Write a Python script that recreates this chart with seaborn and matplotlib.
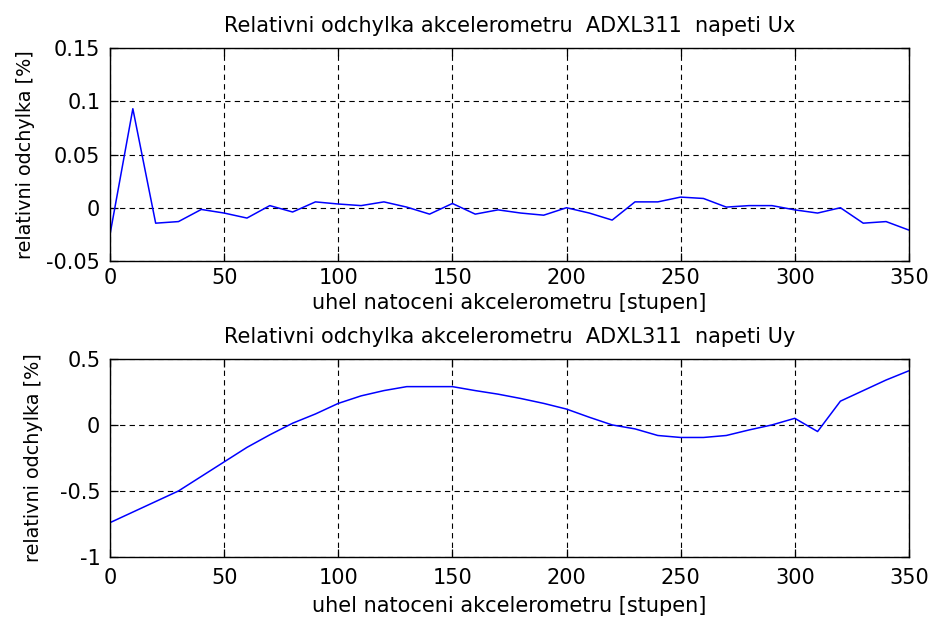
import numpy as np
import pandas as pd
import matplotlib
matplotlib.use("Agg")
import matplotlib.pyplot as plt
import seaborn as sns

angles = list(range(0, 360, 10))
ux_dev = [-0.025, 0.093, -0.0145, -0.013, -0.0016, -0.005, -0.0097, 0.002, -0.004, 0.0055,
          0.0035, 0.002, 0.0055, 0.0006, -0.006, 0.004, -0.006, -0.002, -0.005, -0.007,
          0.0, -0.005, -0.0116, 0.0055, 0.0055, 0.010, 0.0087, 0.0006, 0.002, 0.002,
          -0.002, -0.005, 0.0, -0.0145, -0.013, -0.021]
uy_dev = [-0.74, -0.66, -0.58, -0.50, -0.39, -0.28, -0.17, -0.075, 0.013, 0.083,
          0.163, 0.22, 0.26, 0.29, 0.29, 0.29, 0.26, 0.233, 0.20, 0.163,
          0.12, 0.058, 0.0, -0.03, -0.08, -0.095, -0.095, -0.08, -0.038, 0.0,
          0.05, -0.05, 0.18, 0.26, 0.34, 0.41]

titles = ["Relativni odchylka akcelerometru  ADXL311  napeti Ux",
          "Relativni odchylka akcelerometru  ADXL311  napeti Uy"]
xlabel = "uhel natoceni akcelerometru [stupen]"
ylabel = "relativni odchylka [%]"
xticks = [0, 50, 100, 150, 200, 250, 300, 350]
yticks1 = [-0.05, 0, 0.05, 0.1, 0.15]
yticks1_lbl = ["-0.05", "0", "0.05", "0.1", "0.15"]
yticks2 = [-1, -0.5, 0, 0.5]
yticks2_lbl = ["-1", "-0.5", "0", "0.5"]

sns.set_theme(style="white")
plt.rcParams["font.family"] = ["DejaVu Sans"]
plt.rcParams["text.color"] = "black"
plt.rcParams["axes.labelcolor"] = "black"

df = pd.DataFrame({"angle": angles, "ux": ux_dev, "uy": uy_dev})

fig = plt.figure(figsize=(9.3, 6.19), dpi=100)
ax1 = fig.add_axes([0.1183, 0.5784, 0.859, 0.344])
ax2 = fig.add_axes([0.1183, 0.1002, 0.859, 0.320])

specs = [(ax1, "ux", (-0.05, 0.15), yticks1, yticks1_lbl, titles[0], -0.0935, 11.3, 5, 4),
         (ax2, "uy", (-1, 0.5), yticks2, yticks2_lbl, titles[1], -0.0840, 11.8, 8, 6)]
for ax, col, ylim, yt, ytl, title, ylx, tpad, xpad, xlp in specs:
    sns.lineplot(data=df, x="angle", y=col, ax=ax, color="#0000ff", linewidth=1.1)
    ax.set_xlim(0, 350)
    ax.set_ylim(*ylim)
    ax.set_xticks(xticks)
    ax.set_xticklabels([str(t) for t in xticks])
    ax.set_yticks(yt)
    ax.set_yticklabels(ytl)
    ax.grid(True, color="black", linestyle=(0, (4.8, 3.8)), linewidth=0.8)
    ax.tick_params(direction="in", length=6, width=0.9, colors="black",
                   labelsize=15, top=True, right=True, bottom=True, left=True)
    ax.tick_params(axis="x", pad=xpad)
    ax.tick_params(axis="y", pad=7)
    for s in ax.spines.values():
        s.set_visible(True)
        s.set_color("black")
        s.set_linewidth(1.0)
    ax.set_title(title, fontsize=15, pad=tpad, color="black")
    ax.set_xlabel(xlabel, fontsize=15, labelpad=xlp)
    ax.set_ylabel(ylabel, fontsize=13.8)
    ax.yaxis.set_label_coords(ylx, 0.5)

fig.savefig("out.png", dpi=100, facecolor="white")
